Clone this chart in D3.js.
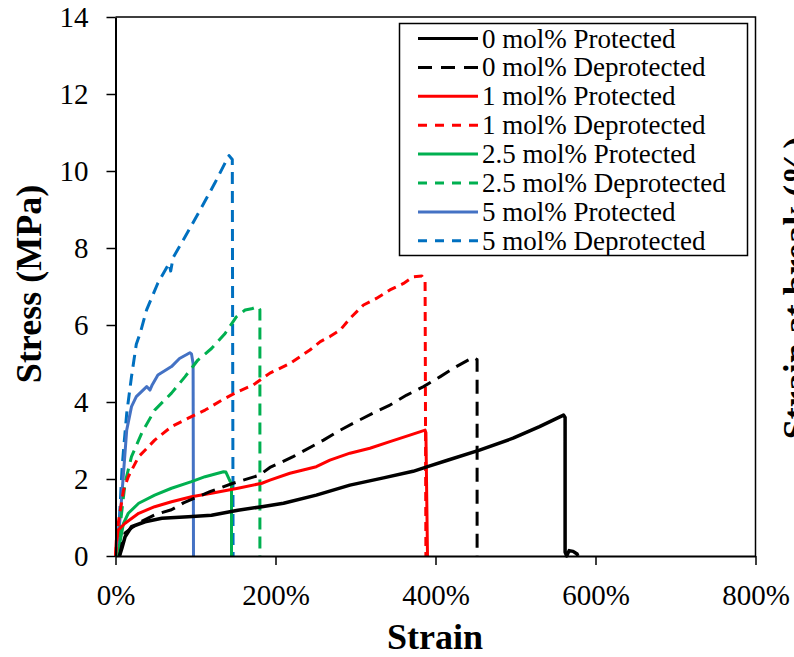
<!DOCTYPE html>
<html>
<head>
<meta charset="utf-8">
<script src="https://cdn.jsdelivr.net/npm/d3@7"></script>
<style>
  body { margin: 0; background: #fff; }
  svg, svg text { font-family: "Liberation Serif", "Times New Roman", Times, "DejaVu Serif", serif; }
</style>
</head>
<body>
<div id="chart"></div>
<script>
// strain (%) vs stress (MPa)
var p0 = [[5,0],[8,0.2],[12,0.5],[20,0.76],[37,0.89],[58,0.98],[91,1.02],[120,1.06],[153,1.19],[183,1.28],[210,1.37],[251,1.58],[293,1.84],[335,2.03],[372,2.2],[393,2.34],[414,2.48],[455,2.75],[497,3.06],[530,3.36],[560,3.66],[562,3.6],[562,0.1],[564,0],[567,0.14],[572,0.12],[577,0.05],[578,0]];
var d0 = [[5,0],[8,0.3],[12,0.6],[28,0.85],[50,1.08],[70,1.2],[85,1.38],[118,1.67],[147,1.89],[180,2.1],[193,2.3],[222,2.58],[260,3.01],[281,3.27],[301,3.49],[322,3.71],[343,3.92],[364,4.18],[385,4.4],[406,4.66],[426,4.92],[447,5.16],[452,5.1],[452,0]];
var p1 = [[0,0],[1,0.4],[3.5,0.68],[12,0.85],[29,1.11],[49,1.28],[70,1.41],[95,1.54],[120,1.63],[153,1.76],[183,1.89],[193,1.97],[218,2.15],[251,2.32],[268,2.49],[293,2.67],[318,2.8],[343,2.97],[368,3.14],[387,3.27],[388,3.2],[390,0]];
var d1 = [[0,0],[2,0.5],[3.5,0.86],[10,1.71],[16,2.06],[29,2.58],[49,3.01],[70,3.36],[91,3.58],[112,3.79],[133,4.05],[153,4.27],[172,4.44],[193,4.75],[218,5.0],[243,5.35],[256,5.57],[268,5.7],[281,5.87],[293,6.17],[310,6.52],[326,6.69],[343,6.91],[360,7.08],[372,7.25],[383,7.27],[387,7.15],[388,0]];
var p25 = [[4,0],[6,0.4],[10,0.85],[16,1.11],[29,1.37],[49,1.58],[70,1.76],[95,1.93],[112,2.06],[135,2.19],[138,2.18],[143,1.95],[145,1.9],[145,0]];
var d25 = [[4,0],[7,1.0],[12,1.9],[20,2.58],[33,3.2],[49,3.79],[70,4.23],[87,4.66],[103,5.09],[120,5.39],[137,5.78],[151,6.21],[162,6.39],[170,6.42],[178,6.48],[180.5,6.4],[180.5,0]];
var p5 = [[2,0],[5,0.8],[8,1.6],[10,2.15],[14,3.27],[20,3.88],[26,4.14],[39,4.4],[43,4.31],[46,4.45],[53,4.7],[70,4.92],[80,5.13],[93,5.28],[95,5.25],[97,5.0],[97.5,0]];
var d5 = [[2,0],[5,1.0],[8,2.2],[10,2.75],[14,3.7],[20,4.66],[26,5.5],[31,5.8],[39,6.4],[53,7.09],[67,7.6],[69,7.4],[72,7.75],[87,8.29],[108,9.07],[124,9.68],[139,10.29],[142,10.4],[146,10.3],[147,0]];

var names = ["0 mol% Protected","0 mol% Deprotected","1 mol% Protected","1 mol% Deprotected",
             "2.5 mol% Protected","2.5 mol% Deprotected","5 mol% Protected","5 mol% Deprotected"];
var colors = ["#000000","#000000","#ff0000","#ff0000","#00b050","#00b050","#4472c4","#0070c0"];
var dashes = [null,"14,8",null,"9,6",null,"12,7",null,"12,7"];
var series = [p0,d0,p1,d1,p25,d25,p5,d5];

var xTicks = [0,200,400,600,800];
var yTicks = [0,2,4,6,8,10,12,14];

var font = "'Liberation Serif', 'Times New Roman', Times, 'DejaVu Serif', serif";
var width = 794, height = 657;
var svg = d3.select("#chart").append("svg")
	.attr("width", width)
	.attr("height", height)
	.style("font-family", font)

var x = d3.scaleLinear().domain([0,800]).range([115.5,755.5]);
var y = d3.scaleLinear().domain([0,14]).range([556,17]);

// plot frame (top and right)
svg.append("path")
	.attr("d", "M" + x(0) + "," + y(14) + "H" + x(800) + "V" + y(0))
	.attr("fill", "none")
	.attr("stroke", "#000")
	.attr("stroke-width", 1.5)

var line = d3.line()
	.x(function(d) { return x(d[0]); })
	.y(function(d) { return y(d[1]); })

// draw back to front: 0 mol% on top
var order = [7,6,5,4,3,2,1,0];
order.forEach(function(i) {
	svg.append("path")
		.datum(series[i])
		.attr("d", line)
		.attr("fill", "none")
		.attr("stroke", colors[i])
		.attr("stroke-width", i == 0 ? 3.5 : 3)
		.attr("stroke-linejoin", "round")
		.attr("stroke-dasharray", dashes[i])
})

var xAxis = svg.append("g")
	.attr("transform", "translate(0," + y(0) + ")")
	.call(d3.axisBottom(x).tickValues(xTicks).tickSize(9).tickSizeOuter(0).tickPadding(12)
		.tickFormat(function(d) { return d + "%"; }))
var yAxis = svg.append("g")
	.attr("transform", "translate(" + x(0) + ",0)")
	.call(d3.axisLeft(y).tickValues(yTicks).tickSize(9).tickSizeOuter(0).tickPadding(18))

svg.selectAll("g").attr("font-family", null)
svg.selectAll(".domain").attr("stroke", "#000").attr("stroke-width", 2)
svg.selectAll(".tick line").attr("stroke", "#000").attr("stroke-width", 1.5)
svg.selectAll(".tick text")
	.attr("fill", "#000")
	.style("font-family", font)
	.attr("font-size", 29)
xAxis.selectAll(".tick text").attr("dy", "0.95em")
yAxis.selectAll(".tick text").attr("dy", "0.34em")

// axis titles
svg.append("text")
	.attr("x", 435)
	.attr("y", 649)
	.attr("text-anchor", "middle")
	.attr("font-size", 36)
	.attr("font-weight", "bold")
	.text("Strain")

svg.append("text")
	.attr("transform", "translate(41,284) rotate(-90)")
	.attr("text-anchor", "middle")
	.attr("font-size", 36)
	.attr("font-weight", "bold")
	.text("Stress (MPa)")

// secondary axis title, cut off by the page edge like in the original
svg.append("text")
	.attr("transform", "translate(808,288) rotate(-90)")
	.attr("text-anchor", "middle")
	.attr("font-size", 36)
	.attr("font-weight", "bold")
	.text("Strain at break (%)")

// legend
var legend = svg.append("g")
legend.append("rect")
	.attr("x", 399.5)
	.attr("y", 23.5)
	.attr("width", 348)
	.attr("height", 232)
	.attr("fill", "#fff")
	.attr("stroke", "#000")
	.attr("stroke-width", 1.5)

var rows = legend.selectAll("g.row")
	.data(names)
	.enter()
		.append("g")
		.attr("class", "row")
		.attr("transform", function(d, i) { return "translate(0," + (38.5 + i * 28.9) + ")"; })

rows.append("line")
	.attr("x1", 418)
	.attr("x2", 478)
	.attr("stroke", function(d, i) { return colors[i]; })
	.attr("stroke-width", 3)
	.attr("stroke-dasharray", function(d, i) { return dashes[i] ? (i == 1 ? "14,9" : "9,8") : null; })

rows.append("text")
	.attr("x", 482)
	.attr("y", 9)
	.attr("font-size", 27)
	.attr("fill", "#000")
	.text(function(d) { return d; })
</script>
</body>
</html>
